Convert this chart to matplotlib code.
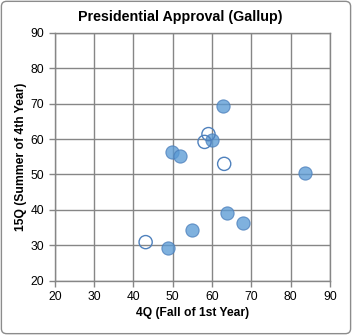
import matplotlib
matplotlib.use("Agg")
import matplotlib.pyplot as plt
from matplotlib.patches import FancyBboxPatch

plt.rcParams['font.family'] = ['Liberation Sans', 'DejaVu Sans']

filled_x = [62.7, 59.9, 49.7, 51.8, 83.8, 63.7, 67.8, 54.8, 48.9]
filled_y = [69.4, 59.7, 56.4, 55.2, 50.5, 39.2, 36.4, 34.4, 29.3]
open_x = [59.1, 58.1, 63.1, 43.1]
open_y = [61.4, 59.2, 53.0, 30.9]
ticks = [20, 30, 40, 50, 60, 70, 80, 90]

fig = plt.figure(figsize=(3.52, 3.35), dpi=100)
fig.patches.append(FancyBboxPatch((0.004, 0.004), 0.992, 0.992, boxstyle="round,pad=0,rounding_size=0.015",
                                  transform=fig.transFigure, fill=False, edgecolor='#8c8c8c', linewidth=1.0))
ax = fig.add_axes([0.156, 0.162, 0.781, 0.740])
gc = '#868686'
ax.set_xlim(20, 90)
ax.set_ylim(20, 90)
ax.set_xticks(ticks)
ax.set_yticks(ticks)
ax.grid(True, color=gc, linewidth=1.0)
ax.set_axisbelow(True)
for s in ax.spines.values():
    s.set_color(gc)
    s.set_linewidth(1.0)
ax.tick_params(colors=gc, length=4, width=1.0, labelcolor='black', labelsize=8.7)

ax.scatter(filled_x, filled_y, s=90, color='#5b9bd5', alpha=0.78, edgecolors='#4a7ebb', linewidths=0.8, zorder=3)
ax.scatter(open_x, open_y, s=90, facecolors='none', edgecolors='#4f81bd', linewidths=1.0, zorder=3)

fig.text(0.512, 0.949, 'Presidential Approval (Gallup)', fontsize=10.3, fontweight='bold', ha='center', va='center')
ax.set_xlabel('4Q (Fall of 1st Year)', fontsize=8.7, fontweight='bold', labelpad=3)
ax.set_ylabel('15Q (Summer of 4th Year)', fontsize=8.7, fontweight='bold', labelpad=3)

fig.savefig('out.png', dpi=100)
